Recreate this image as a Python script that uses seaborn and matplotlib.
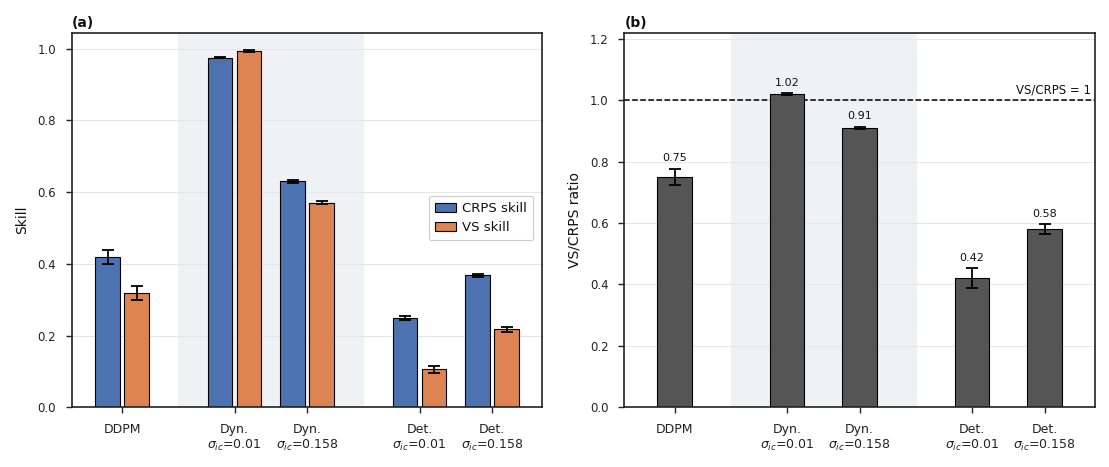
import numpy as np
import pandas as pd
import seaborn as sns
import matplotlib.pyplot as plt

# Data
methods = ['DDPM', 'Dyn.\n$\\sigma_{ic}$=0.01', 'Dyn.\n$\\sigma_{ic}$=0.158',
           'Det.\n$\\sigma_{ic}$=0.01', 'Det.\n$\\sigma_{ic}$=0.158']
positions = [0.0, 1.55, 2.55, 4.1, 5.1]
crps_skill = [0.42, 0.975, 0.630, 0.248, 0.368]
crps_err = [0.020, 0.002, 0.003, 0.006, 0.005]
vs_skill = [0.318, 0.994, 0.571, 0.106, 0.217]
vs_err = [0.020, 0.002, 0.003, 0.010, 0.007]
ratio = [0.75, 1.02, 0.91, 0.42, 0.58]
ratio_err = [0.026, 0.003, 0.004, 0.033, 0.016]

sns.set_theme(style='ticks', context='paper')
plt.rcParams['font.family'] = ['DejaVu Sans']
plt.rcParams['text.color'] = '#111111'
plt.rcParams['axes.labelcolor'] = '#111111'
plt.rcParams['xtick.color'] = '#222222'
plt.rcParams['ytick.color'] = '#222222'

blue = '#4C72B0'
orange = '#DD8452'
gray = '#555555'
shade = '#F0F1F5'

fig, (ax1, ax2) = plt.subplots(1, 2, figsize=(11.09, 4.67), dpi=100)

# shaded block spans the Dyn. group (midpoints between groups)
span_lo = (positions[0] + positions[1]) / 2
span_hi = (positions[2] + positions[3]) / 2

# (a) skill bars
df = pd.DataFrame({
    'pos': positions * 2,
    'skill': crps_skill + vs_skill,
    'metric': ['CRPS skill'] * 5 + ['VS skill'] * 5,
})
ax1.axvspan(span_lo, span_hi, color=shade, zorder=0)
sns.barplot(data=df, x='pos', y='skill', hue='metric', native_scale=True,
            palette=[blue, orange], width=0.8, gap=0.15, errorbar=None,
            edgecolor='black', linewidth=0.8, saturation=1, ax=ax1, zorder=2)
pos = np.array(positions)
ax1.errorbar(pos - 0.2, crps_skill, yerr=crps_err, fmt='none', ecolor='black',
             elinewidth=1.3, capsize=4, capthick=1.3, zorder=3)
ax1.errorbar(pos + 0.2, vs_skill, yerr=vs_err, fmt='none', ecolor='black',
             elinewidth=1.3, capsize=4, capthick=1.3, zorder=3)
ax1.set_ylim(0, 1.045)
ax1.set_ylabel('Skill', fontsize=10, labelpad=6)
ax1.set_xlabel('')
ax1.legend(loc='center right', bbox_to_anchor=(0.995, 0.505), fontsize=9.5,
           frameon=True, edgecolor='#cccccc', framealpha=1, fancybox=True,
           handlelength=1.6, handletextpad=0.5, borderpad=0.45)
ax1.set_title('(a)', loc='left', fontweight='bold', fontsize=10, pad=4)

# (b) ratio bars
ax2.axvspan(span_lo, span_hi, color=shade, zorder=0)
sns.barplot(x=positions, y=ratio, native_scale=True, width=0.48, color=gray,
            errorbar=None, edgecolor='black', linewidth=0.8, saturation=1,
            ax=ax2, zorder=2)
ax2.errorbar(pos, ratio, yerr=ratio_err, fmt='none', ecolor='black',
             elinewidth=1.3, capsize=4, capthick=1.3, zorder=3)
for x, r, e in zip(positions, ratio, ratio_err):
    ax2.annotate(f'{r:.2f}', (x, r + e), xytext=(0, 4), textcoords='offset points',
                 ha='center', va='bottom', fontsize=8)
ax2.axhline(1.0, color='black', linestyle='--', linewidth=1.1, zorder=1)
ax2.text(5.74, 1.012, 'VS/CRPS = 1', ha='right', va='bottom', fontsize=8.5)
ax2.set_ylim(0, 1.22)
ax2.set_ylabel('VS/CRPS ratio', fontsize=10, labelpad=6)
ax2.set_title('(b)', loc='left', fontweight='bold', fontsize=10, pad=4)

for ax, yt in ((ax1, np.arange(0, 1.01, 0.2)), (ax2, np.arange(0, 1.21, 0.2))):
    ax.set_xlim(-0.69, 5.79)
    ax.set_xticks(positions)
    ax.set_xticklabels(methods, fontsize=9)
    ax.set_yticks(yt)
    ax.set_yticklabels([f'{v:.1f}' for v in yt], fontsize=8.5)
    ax.yaxis.grid(True, color='#e6e6e6', linewidth=0.7, zorder=0)
    ax.set_axisbelow(True)
    for s in ax.spines.values():
        s.set_visible(True)
        s.set_color('#222222')
        s.set_linewidth(1.2)
    ax.tick_params(axis='both', length=4.5, width=1.0, pad=7)

plt.subplots_adjust(left=0.065, right=0.987, top=0.93, bottom=0.128, wspace=0.175)
fig.savefig('out.png', dpi=100)
